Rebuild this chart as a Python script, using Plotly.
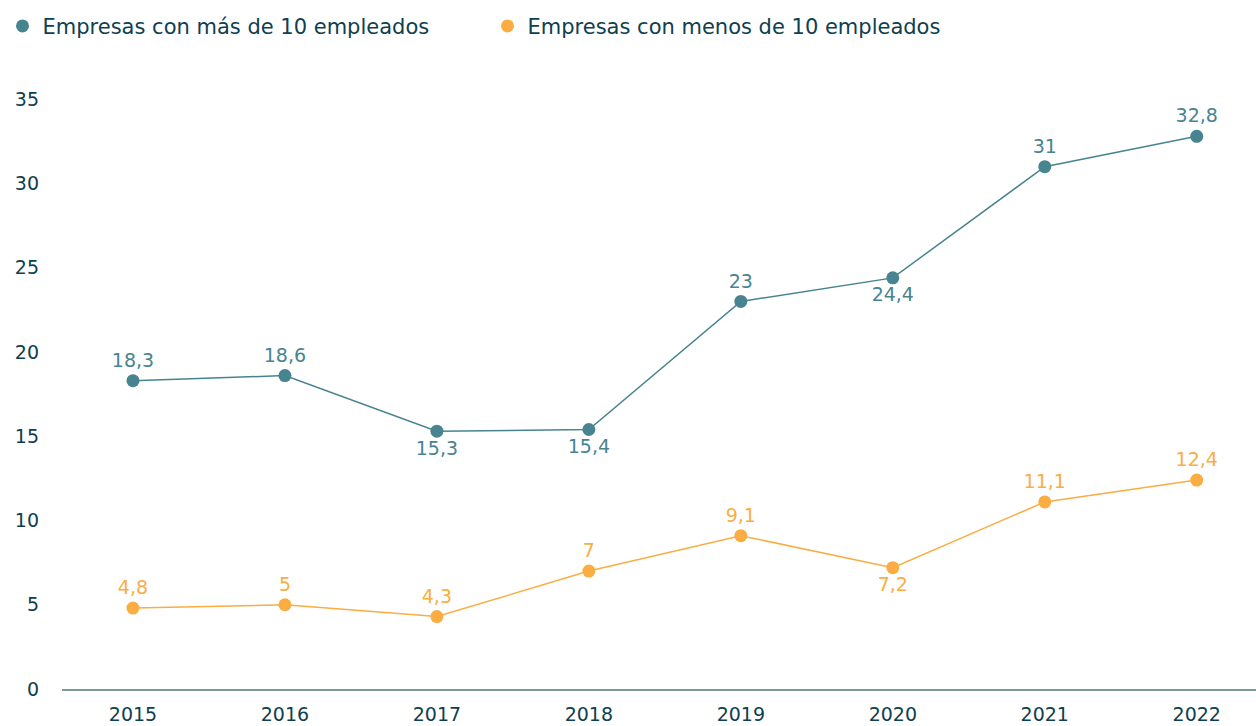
import plotly.graph_objects as go

years = ["2015", "2016", "2017", "2018", "2019", "2020", "2021", "2022"]
mas10 = [18.3, 18.6, 15.3, 15.4, 23, 24.4, 31, 32.8]
menos10 = [4.8, 5, 4.3, 7, 9.1, 7.2, 11.1, 12.4]
mas10_pos = ["top center", "top center", "bottom center", "bottom center",
             "top center", "bottom center", "top center", "top center"]
menos10_pos = ["top center", "top center", "top center", "top center",
               "top center", "bottom center", "top center", "top center"]
y_ticks = [0, 5, 10, 15, 20, 25, 30, 35]

TEAL = "#47848f"
ORANGE = "#f9ad42"
DARK = "#0e4050"
FONT = "DejaVu Sans"


def fmt(v):
    s = ("%g" % v)
    return s.replace(".", ",")


fig = go.Figure()
for name, vals, pos, col in [
    ("Empresas con más de 10 empleados", mas10, mas10_pos, TEAL),
    ("Empresas con menos de 10 empleados", menos10, menos10_pos, ORANGE),
]:
    fig.add_trace(go.Scatter(
        x=years, y=vals, name=name, showlegend=False,
        mode="lines+markers+text",
        line=dict(color=col, width=1.5),
        marker=dict(color=col, size=13),
        text=[fmt(v) for v in vals], textposition=pos,
        textfont=dict(color=col, size=19, family=FONT),
        cliponaxis=False,
    ))
    fig.add_trace(go.Scatter(
        x=[None], y=[None], name=name, mode="markers",
        marker=dict(color=col, size=13), showlegend=True,
    ))

fig.update_layout(
    width=1256, height=726,
    margin=dict(l=62, r=0, t=75, b=37),
    paper_bgcolor="white", plot_bgcolor="white",
    font=dict(family=FONT, color=DARK, size=19),
    showlegend=True,
    legend=dict(orientation="h", x=0.002, y=0.992, xref="container", yref="container",
                xanchor="left", yanchor="top",
                entrywidth=440, entrywidthmode="pixels",
                font=dict(size=21, color=DARK, family=FONT),
                itemwidth=30),
    xaxis=dict(type="category", range=[-0.467, 7.39], automargin=False,
               showgrid=False, showline=True, linecolor="#7d979d", linewidth=2,
               ticks="", ticklabelstandoff=7,
               tickfont=dict(size=19, color=DARK, family=FONT)),
    yaxis=dict(range=[0, 36.44], tickvals=y_ticks, ticktext=[str(t) for t in y_ticks],
               automargin=False,
               showgrid=False, zeroline=False, showline=False,
               ticks="", ticklabelstandoff=22,
               tickfont=dict(size=19, color=DARK, family=FONT)),
)

fig.write_html("out.html", config={"displayModeBar": False},
               post_script="document.body.style.margin='0';document.body.style.overflow='hidden';")
